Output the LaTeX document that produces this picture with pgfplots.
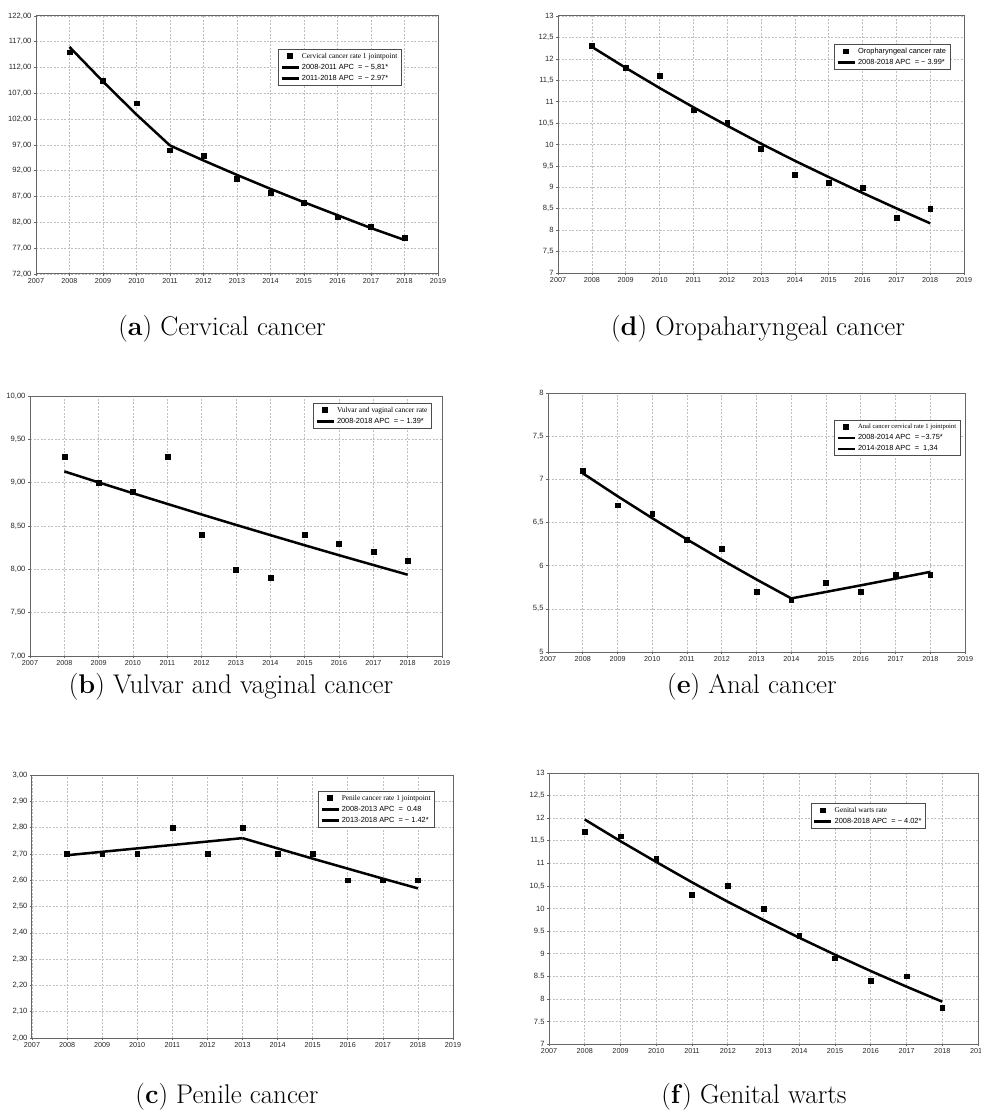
\documentclass[border=0pt]{standalone}
\usepackage{fontspec}
\usepackage{pgfplots}
\pgfplotsset{compat=1.18}
\newfontfamily\tickfont{Liberation Sans}
\newfontfamily\legserif{Liberation Serif}

\pgfplotsset{
  jp/.style={
    scale only axis,
    anchor=north west,
    xmin=2007, xmax=2019,
    xtick={2007,2008,...,2019},
    grid=major,
    major grid style={dash pattern=on 2pt off 1.5pt, black!25, line width=0.6pt},
    axis line style={draw=black!60, line width=1pt},
    tick style={draw=black!60, line width=0.6pt},
    tick align=outside,
    major tick length=2pt,
    xtick pos=bottom, ytick pos=left,
    ticklabel style={font=\tickfont\fontsize{7.2}{8}\selectfont, text=black!85},
    yticklabel style={font=\tickfont\fontsize{7.6}{8}\selectfont},
    /pgf/number format/assume math mode=true,
    xticklabel style={/pgf/number format/1000 sep={}},
    xticklabel shift=-1pt,
    yticklabel shift=-1pt,
    legend cell align=left,
    legend style={font=\tickfont\fontsize{7.4}{8.8}\selectfont, draw=black!70, line width=0.8pt,
      inner xsep=2pt, inner ysep=1.5pt, row sep=0.5pt, anchor=north west, fill=white},
  },
  dec2/.style={yticklabel style={/pgf/number format/.cd, fixed, fixed zerofill, precision=2, use comma}},
  dec1/.style={yticklabel style={/pgf/number format/.cd, fixed, use comma}},
  pts/.style={only marks, mark=square*, mark size=2.4pt, black},
  fit/.style={no markers, black, line width=2.5pt, line join=round},
}

\begin{document}
\begin{tikzpicture}
\useasboundingbox (0,0) rectangle (981pt,-1113pt);

% (a) Cervical cancer
\begin{axis}[jp, dec2, at={(36pt,-16pt)}, width=402pt, height=258pt,
  ymin=72, ymax=122, ytick={72,77,...,122},
  legend style={at={(0.602,0.872)}}]
\addplot[pts] coordinates {(2008,115.0) (2009,109.5) (2010,105.1) (2011,96.0) (2012,95.0) (2013,90.4) (2014,87.8) (2015,85.8) (2016,83.0) (2017,81.2) (2018,79.1)};
\addlegendentry{\legserif Cervical cancer rate 1 jointpoint}
\addplot[fit] coordinates {(2008,116.0) (2009,109.3) (2010,102.9) (2011,96.9)};
\addlegendentry{2008-2011 APC \ = − 5,81*}
\addplot[fit] coordinates {(2011,96.9) (2012,94.0) (2013,91.2) (2014,88.5) (2015,85.9) (2016,83.4) (2017,80.9) (2018,78.6)};
\addlegendentry{2011-2018 APC \ = − 2.97*}
\end{axis}

% (d) Oropharyngeal cancer
\begin{axis}[jp, dec1, at={(558pt,-16pt)}, width=406pt, height=257pt,
  ymin=7, ymax=13, ytick={7,7.5,...,13},
  legend style={at={(0.680,0.891)}}]
\addplot[pts] coordinates {(2008,12.3) (2009,11.8) (2010,11.6) (2011,10.8) (2012,10.5) (2013,9.9) (2014,9.3) (2015,9.1) (2016,9.0) (2017,8.3) (2018,8.5)};
\addlegendentry{Oropharyngeal cancer rate}
\addplot[fit] coordinates {(2008,12.28) (2009,11.79) (2010,11.32) (2011,10.87) (2012,10.44) (2013,10.02) (2014,9.62) (2015,9.24) (2016,8.87) (2017,8.51) (2018,8.16)};
\addlegendentry{2008-2018 APC \ = − 3.99*}
\end{axis}

% (b) Vulvar and vaginal cancer
\begin{axis}[jp, dec2, at={(30pt,-396pt)}, width=412pt, height=260pt,
  ymin=7, ymax=10, ytick={7,7.5,...,10},
  legend style={at={(0.687,0.973)}}]
\addplot[pts] coordinates {(2008,9.3) (2009,9.0) (2010,8.9) (2011,9.3) (2012,8.4) (2013,8.0) (2014,7.9) (2015,8.4) (2016,8.3) (2017,8.2) (2018,8.1)};
\addlegendentry{\legserif Vulvar and vaginal cancer rate}
\addplot[fit] coordinates {(2008,9.13) (2009,9.003) (2010,8.878) (2011,8.755) (2012,8.633) (2013,8.513) (2014,8.395) (2015,8.278) (2016,8.163) (2017,8.050) (2018,7.938)};
\addlegendentry{2008-2018 APC \ = − 1.39*}
\end{axis}

% (e) Anal cancer
\begin{axis}[jp, dec1, at={(548pt,-393pt)}, width=417pt, height=259pt,
  ymin=5, ymax=8, ytick={5,5.5,...,8},
  legend style={at={(0.686,0.896)}}]
\addplot[pts] coordinates {(2008,7.1) (2009,6.7) (2010,6.6) (2011,6.3) (2012,6.2) (2013,5.7) (2014,5.6) (2015,5.8) (2016,5.7) (2017,5.9) (2018,5.9)};
\addlegendentry{\legserif\fontsize{6.6}{8}\selectfont Anal cancer cervical rate 1 jointpoint}
\addplot[fit] coordinates {(2008,7.07) (2009,6.805) (2010,6.550) (2011,6.304) (2012,6.068) (2013,5.840) (2014,5.621)};
\addlegendentry{2008-2014 APC \ = −3.75*}
\addplot[fit] coordinates {(2014,5.621) (2015,5.696) (2016,5.772) (2017,5.850) (2018,5.928)};
\addlegendentry{2014-2018 APC \ = \ 1,34}
\end{axis}

% (c) Penile cancer
\begin{axis}[jp, dec2, at={(32pt,-775pt)}, width=421pt, height=263pt,
  ymin=2, ymax=3, ytick={2,2.1,...,3.01},
  legend style={at={(0.679,0.939)}}]
\addplot[pts] coordinates {(2008,2.7) (2009,2.7) (2010,2.7) (2011,2.8) (2012,2.7) (2013,2.8) (2014,2.7) (2015,2.7) (2016,2.6) (2017,2.6) (2018,2.6)};
\addlegendentry{\legserif Penile cancer rate 1 jointpoint}
\addplot[fit] coordinates {(2008,2.695) (2009,2.708) (2010,2.721) (2011,2.734) (2012,2.747) (2013,2.760)};
\addlegendentry{2008-2013 APC \ = \ 0.48}
\addplot[fit] coordinates {(2013,2.760) (2014,2.721) (2015,2.682) (2016,2.644) (2017,2.606) (2018,2.569)};
\addlegendentry{2013-2018 APC \ = − 1.42*}
\end{axis}

% (f) Genital warts
\begin{axis}[jp, at={(549pt,-773pt)}, width=429pt, height=271pt,
  ymin=7, ymax=13, ytick={7,7.5,8,8.5,9,9.5,10,10.5,11,11.5,12,12.5,13},
  yticklabels={7,{7.5},8,{8.5},9,{9.5},10,{10,5},11,{11,5},12,{12,5},13},
  legend style={at={(0.610,0.889)}}]
\addplot[pts] coordinates {(2008,11.7) (2009,11.6) (2010,11.1) (2011,10.3) (2012,10.5) (2013,10.0) (2014,9.4) (2015,8.9) (2016,8.4) (2017,8.5) (2018,7.8)};
\addlegendentry{\legserif Genital warts rate}
\addplot[fit] coordinates {(2008,11.97) (2009,11.49) (2010,11.03) (2011,10.58) (2012,10.15) (2013,9.745) (2014,9.353) (2015,8.977) (2016,8.616) (2017,8.270) (2018,7.937)};
\addlegendentry{2008-2018 APC \ = − 4.02*}
\end{axis}

% captions
\begin{scope}[every node/.style={font=\fontsize{27}{31}\selectfont, inner sep=0pt}]
\node at (222pt,-329pt) {(\textbf{a}) Cervical cancer};
\node at (758pt,-329pt) {(\textbf{d}) Oropaharyngeal cancer};
\node at (231pt,-687pt) {(\textbf{b}) Vulvar and vaginal cancer};
\node at (752pt,-687pt) {(\textbf{e}) Anal cancer};
\node at (227pt,-1097pt) {(\textbf{c}) Penile cancer};
\node at (754pt,-1097pt) {(\textbf{f}) Genital warts};
\end{scope}
\end{tikzpicture}
\end{document}
